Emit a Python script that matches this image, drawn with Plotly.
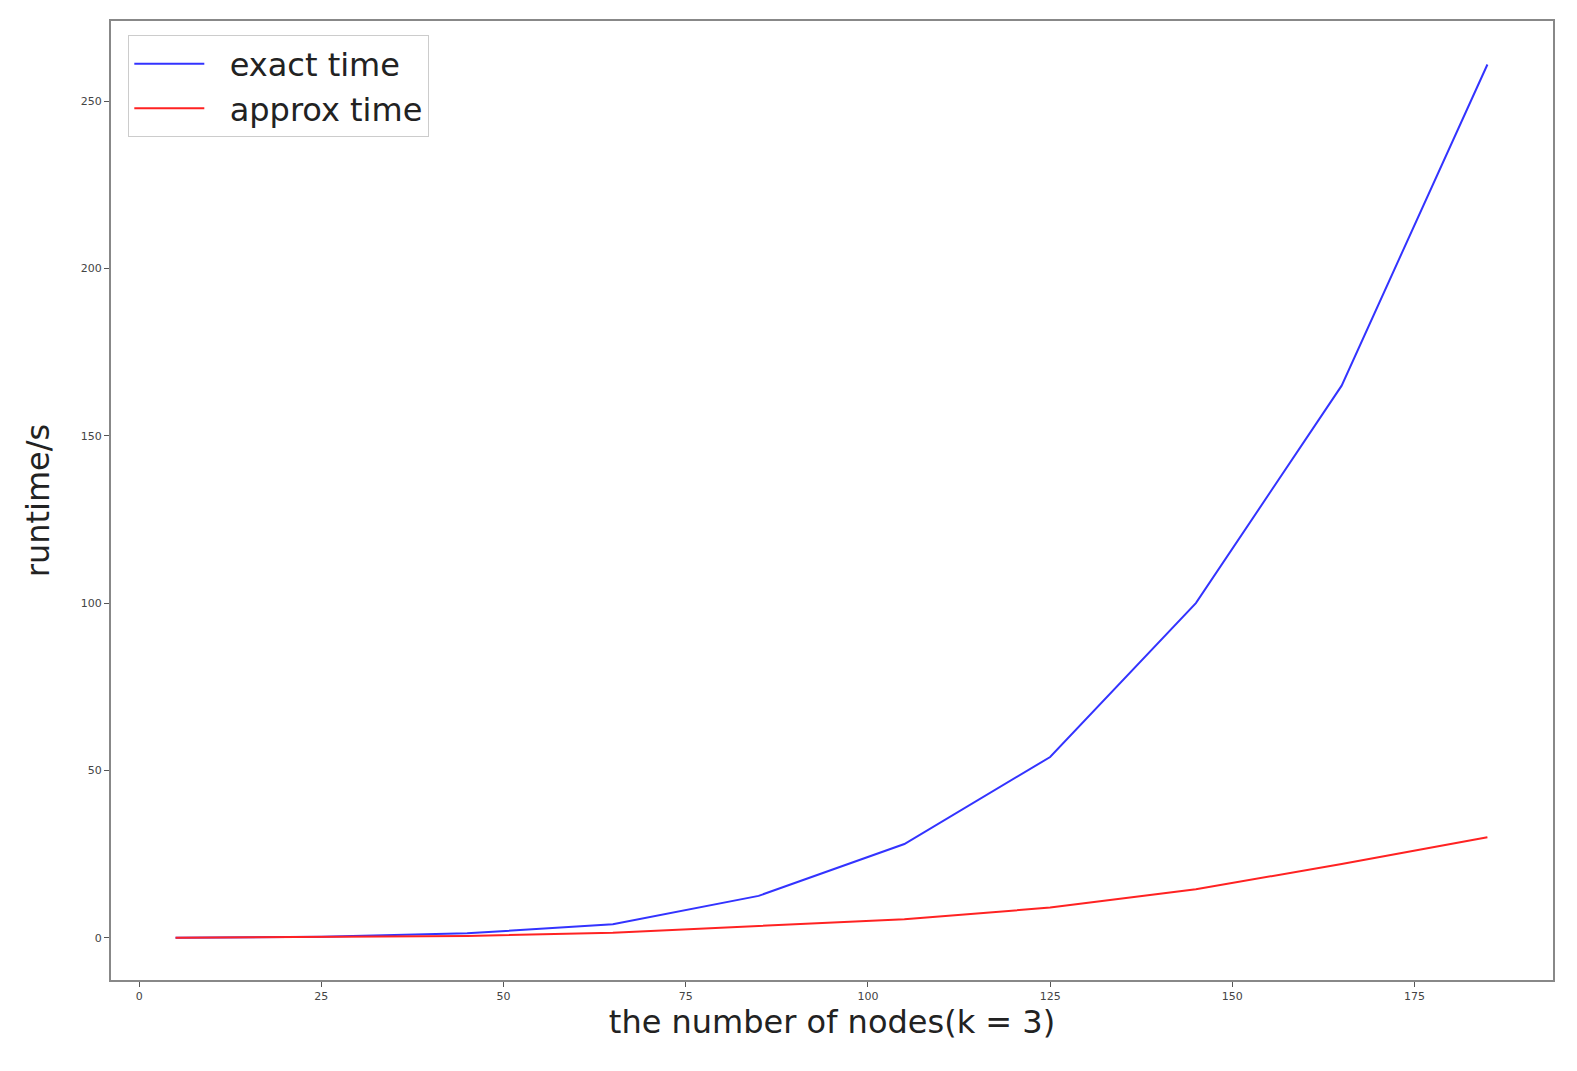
import plotly.graph_objects as go

nodes = [5, 25, 45, 65, 85, 105, 125, 145, 165, 185]
exact_time = [0.0, 0.3, 1.3, 4.0, 12.5, 28.0, 54.0, 100.0, 165.0, 261.0]
approx_time = [0.0, 0.2, 0.5, 1.5, 3.5, 5.5, 9.0, 14.5, 22.0, 30.0]

fig = go.Figure()
fig.add_trace(go.Scatter(x=nodes, y=exact_time, mode="lines", name="  exact time",
                         line=dict(color="#3333ff", width=2)))
fig.add_trace(go.Scatter(x=nodes, y=approx_time, mode="lines", name="  approx time",
                         line=dict(color="#ff2222", width=2)))
axis_common = dict(showgrid=False, zeroline=False, showline=True, linecolor="#888",
                   linewidth=2, mirror=True, ticks="outside", ticklen=5, tickcolor="#555",
                   tickfont=dict(size=11, color="#444", family="DejaVu Sans"))
fig.update_xaxes(range=[-3.86, 194], tickvals=[0, 25, 50, 75, 100, 125, 150, 175],
                 title=dict(text="the number of nodes(k = 3)", font=dict(size=32, color="#222", family="DejaVu Sans"), standoff=8),
                 **axis_common)
fig.update_yaxes(range=[-12.65, 274], tickvals=[0, 50, 100, 150, 200, 250],
                 title=dict(text="runtime/s", font=dict(size=32, color="#222", family="DejaVu Sans"), standoff=22),
                 **axis_common)
fig.update_layout(width=1577, height=1071, plot_bgcolor="white", paper_bgcolor="white",
                  margin=dict(l=103, r=32, t=13, b=99),
                  legend=dict(x=0.012, y=0.985, xanchor="left", yanchor="top",
                              bordercolor="#ccc", borderwidth=1, bgcolor="white",
                              itemwidth=70, tracegroupgap=10,
                              font=dict(size=32, color="#222", family="DejaVu Sans")))
fig.write_html("out.html")
